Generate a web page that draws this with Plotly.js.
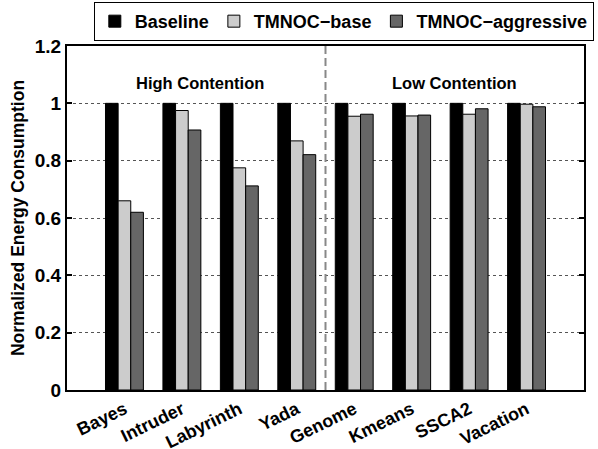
<!DOCTYPE html>
<html><head><meta charset="utf-8">
<script src="https://cdn.plot.ly/plotly-3.0.1.min.js"></script>
<style>html,body{margin:0;padding:0;background:#fff}#chart{width:598px;height:449px}</style>
</head><body><div id="chart"></div>
<script>
const categories = ["Bayes","Intruder","Labyrinth","Yada","Genome","Kmeans","SSCA2","Vacation"];
const baseline = [1,1,1,1,1,1,1,1];
const tmnocBase = [0.66,0.975,0.775,0.869,0.955,0.956,0.962,0.997];
const tmnocAggressive = [0.62,0.907,0.712,0.821,0.962,0.959,0.981,0.988];
const seriesNames = ["Baseline","TMNOC\u2212base","TMNOC\u2212aggressive"];
const yTicks = [0,0.2,0.4,0.6,0.8,1,1.2];
const yTickText = ["0","0.2","0.4","0.6","0.8","1","1.2"];

const F = "Liberation Sans, Arial, Helvetica, sans-serif";
const xIdx = categories.map((c,i)=>i);
function mk(name, y, color){
  return {type:'bar', name:name, x:xIdx, y:y,
    marker:{color:color, line:{color:'#000', width:1}}};
}
const data = [
  mk(seriesNames[0], baseline, '#000000'),
  mk(seriesNames[1], tmnocBase, '#cccccc'),
  mk(seriesNames[2], tmnocAggressive, '#666666')
];
const layout = {
  width:598, height:449,
  margin:{l:67, r:14, t:46, b:59, autoexpand:false},
  paper_bgcolor:'#fff', plot_bgcolor:'#fff',
  font:{family:F, size:14, color:'#000', weight:700},
  barmode:'group', bargap:0.34, bargroupgap:0,
  showlegend:true,
  legend:{orientation:'h', x:1.019, xanchor:'right', y:1.128, yanchor:'top',
    bordercolor:'#000', borderwidth:1, bgcolor:'#fff',
    font:{family:F, size:18, weight:700}, traceorder:'normal', itemwidth:30},
  xaxis:{range:[-1,8], tickvals:xIdx, ticktext:categories, tickangle:-26,
    showline:true, mirror:true, linewidth:2, linecolor:'#000',
    showgrid:false, zeroline:false, ticks:'', ticklen:0, automargin:false,
    tickfont:{family:F, size:18, weight:700}},
  yaxis:{range:[0,1.2], tickvals:yTicks, ticktext:yTickText, automargin:false,
    showline:true, mirror:'ticks', linewidth:2, linecolor:'#000',
    ticks:'inside', ticklen:5, tickwidth:2, tickcolor:'#000',
    showgrid:true, gridcolor:'#555', griddash:'dot', gridwidth:1,
    zeroline:false,
    tickfont:{family:F, size:19, weight:700},
    title:{text:'<b>Normalized Energy Consumption</b>', font:{family:F, size:17.5, weight:700}, standoff:6}},
  shapes:[{type:'line', xref:'x', yref:'paper', x0:3.5, x1:3.5, y0:0, y1:1,
    line:{color:'#888', width:2, dash:'8px,4px'}}],
  annotations:[
    {xref:'x', yref:'paper', x:1.32, y:0.925, text:'High Contention', showarrow:false,
      font:{family:F, size:16.5, weight:700}},
    {xref:'x', yref:'paper', x:5.75, y:0.925, text:'Low Contention', showarrow:false,
      font:{family:F, size:16.5, weight:700}}
  ]
};
Plotly.newPlot('chart', data, layout, {displayModeBar:false, staticPlot:true});
</script></body></html>
